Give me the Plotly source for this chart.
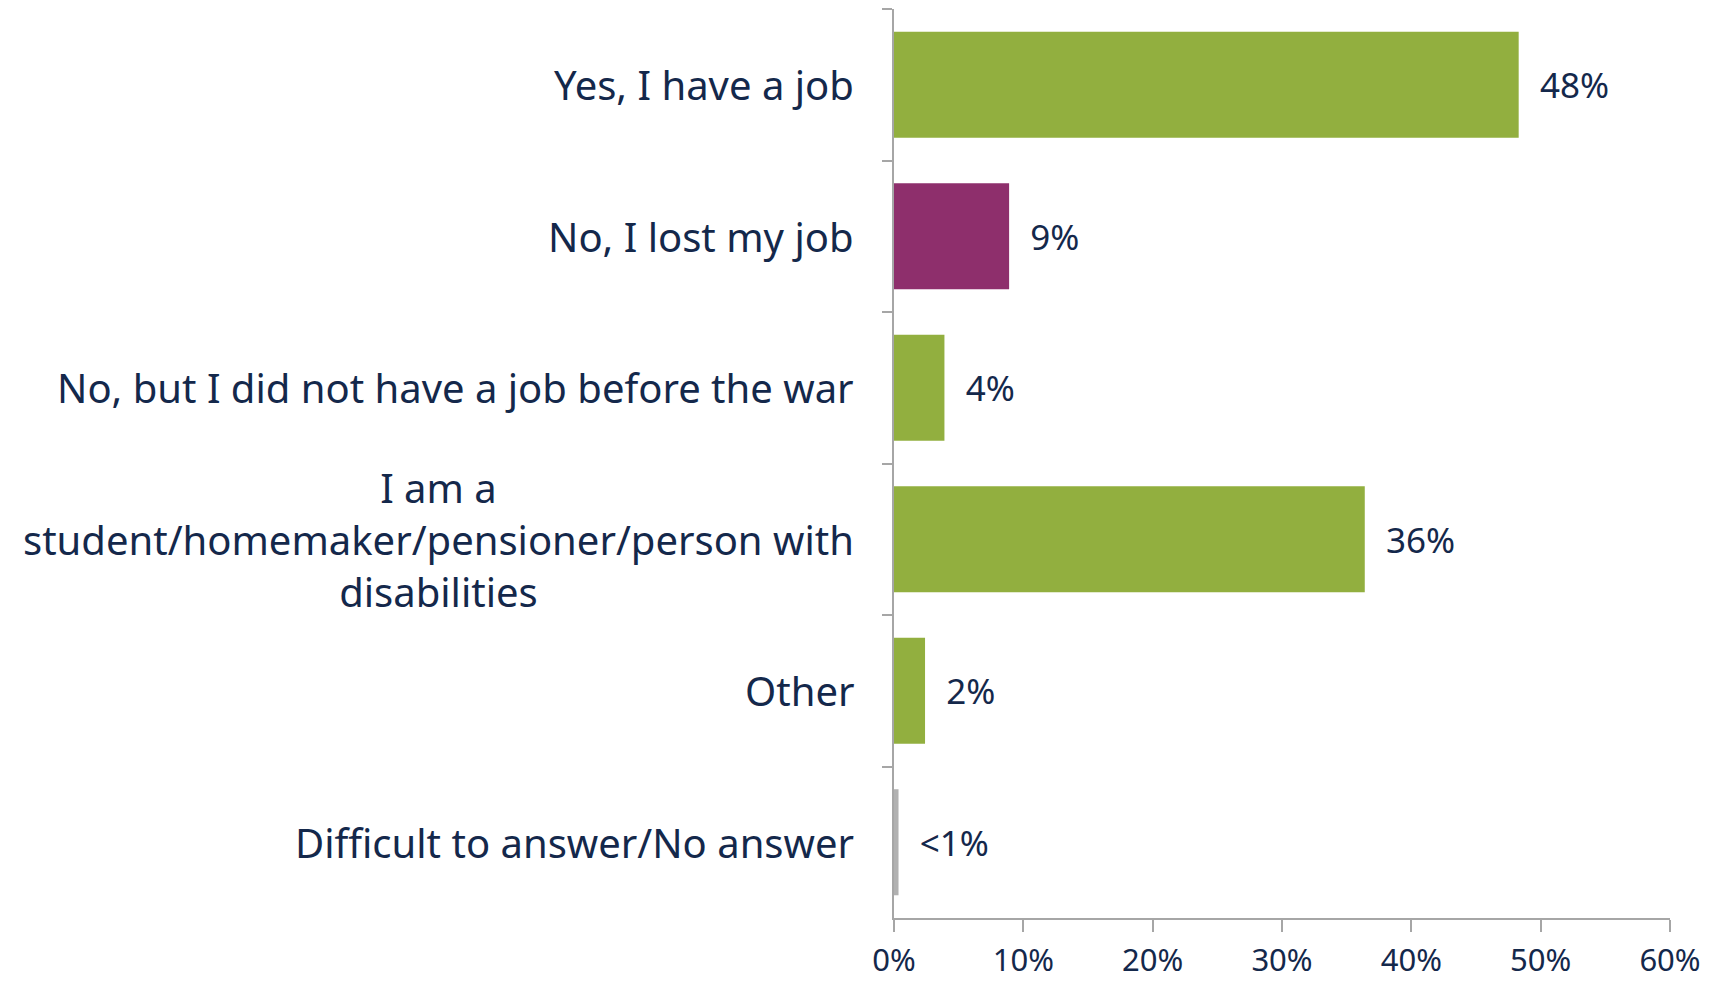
import plotly.graph_objects as go

categories = [
    "Yes, I have a job",
    "No, I lost my job",
    "No, but I did not have a job before the war",
    "I am a<br>student/homemaker/pensioner/person with<br>disabilities",
    "Other",
    "Difficult to answer/No answer",
]
values = [48.3, 8.9, 3.9, 36.4, 2.4, 0.35]
value_labels = ["48%", "9%", "4%", "36%", "2%", "<1%"]
bar_colors = ["#92AF3F", "#8E2F6C", "#92AF3F", "#92AF3F", "#92AF3F", "#B1B1B1"]
x_tickvals = [0, 10, 20, 30, 40, 50, 60]
x_ticktext = ["0%", "10%", "20%", "30%", "40%", "50%", "60%"]

TEXT = "#14284B"
FONT = "Noto Sans"
AXIS = "#A6A6A6"

fig = go.Figure()
fig.add_trace(go.Bar(
    x=values,
    y=categories,
    orientation="h",
    marker=dict(color=bar_colors, line=dict(width=0)),
    text=["  " + t for t in value_labels],
    textposition="outside",
    cliponaxis=False,
    textfont=dict(family=FONT, size=35, color=TEXT),
    hoverinfo="skip",
))

for c in categories:
    fig.add_annotation(
        x=-0.049, xref="paper", y=c, yref="y",
        text=c, showarrow=False, xanchor="right", yanchor="middle",
        align="center", font=dict(family=FONT, size=40, color=TEXT),
    )

fig.update_layout(
    width=1723, height=982,
    margin=dict(l=886, r=61, t=1, b=72),
    plot_bgcolor="white", paper_bgcolor="white",
    bargap=0.3,
    showlegend=False,
    xaxis=dict(
        range=[0, 60], tickvals=x_tickvals, ticktext=x_ticktext,
        showgrid=False, zeroline=False,
        showline=True, linecolor=AXIS, linewidth=2,
        ticks="outside", ticklen=12, tickcolor=AXIS, tickwidth=2,
        tickfont=dict(family=FONT, size=31, color=TEXT),
        ticklabelstandoff=2,
    ),
    yaxis=dict(
        categoryorder="array", categoryarray=categories,
        autorange="reversed",
        showticklabels=False,
        showgrid=False, zeroline=False,
        showline=True, linecolor=AXIS, linewidth=2,
        ticks="outside", ticklen=10, tickcolor=AXIS, tickwidth=2,
        tickson="boundaries",
    ),
)

fig.write_html("out.html")
